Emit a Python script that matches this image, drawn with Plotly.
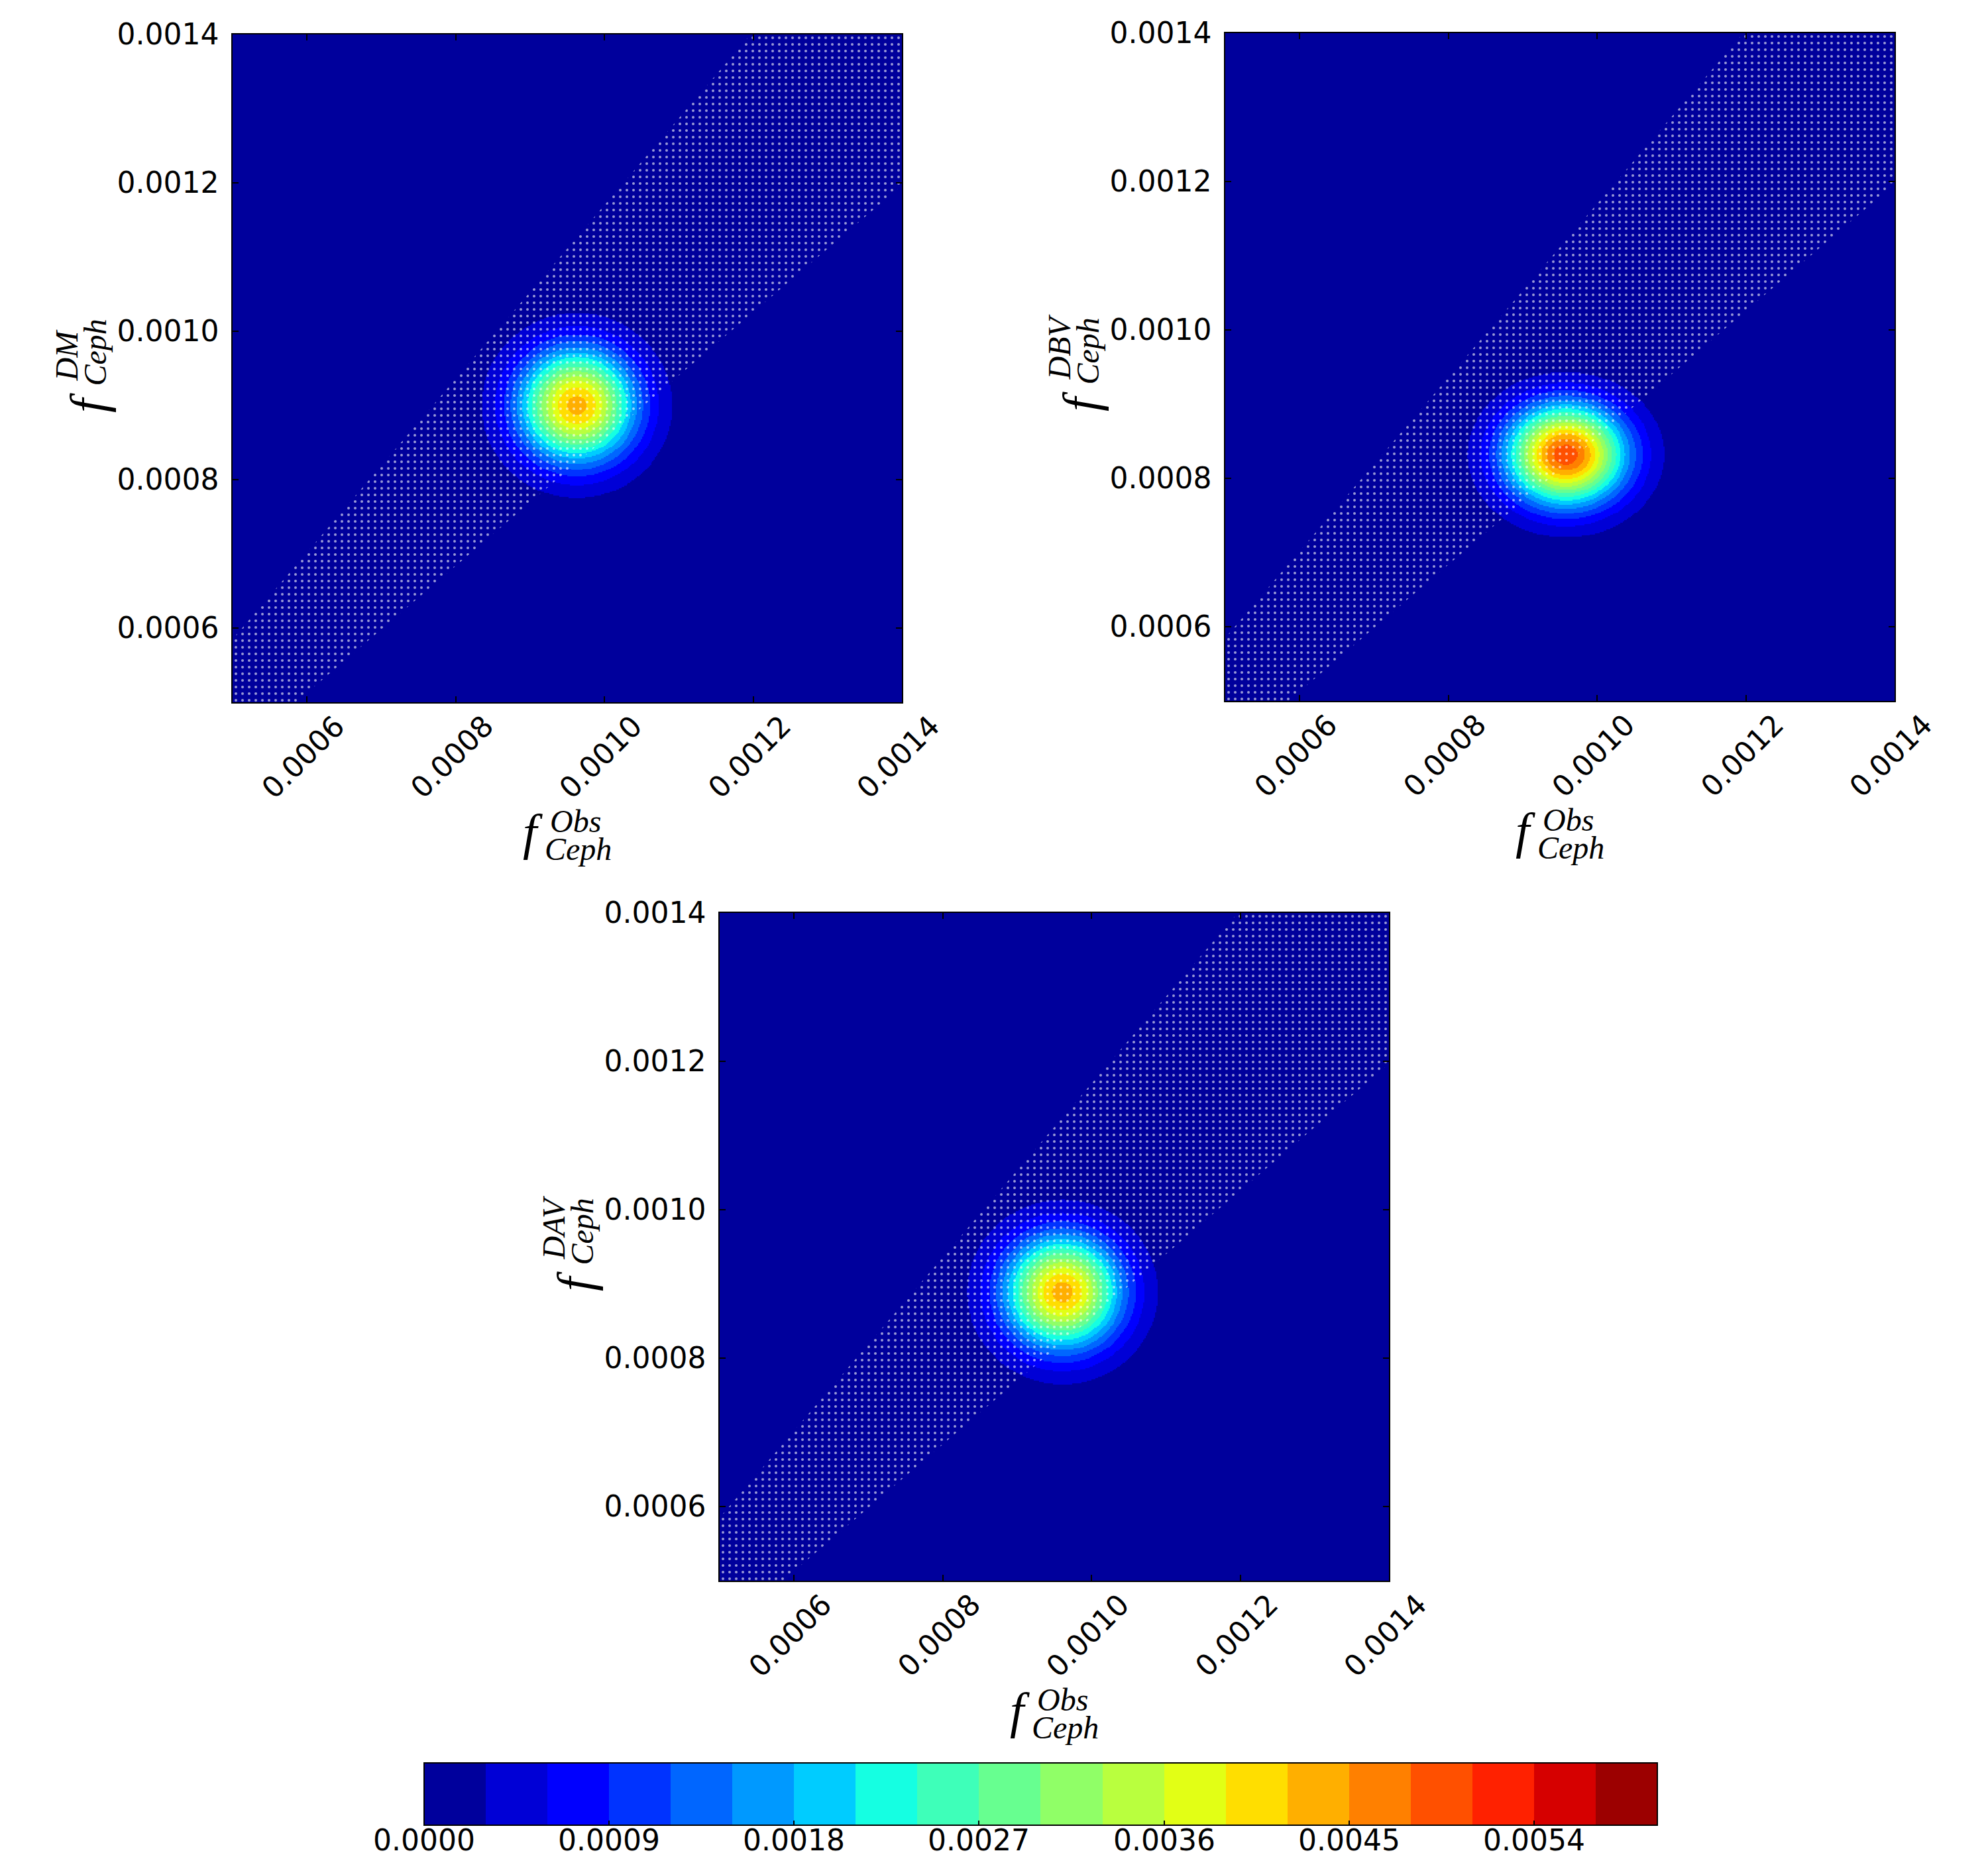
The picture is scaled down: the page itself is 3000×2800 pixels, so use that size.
import numpy as np
import plotly.graph_objects as go

W, H = 3000, 2800

# ---------------- data ----------------
axis_min, axis_max = 0.0005, 0.0014
tick_vals = [0.0006, 0.0008, 0.0010, 0.0012, 0.0014]
tick_text = ["0.0006", "0.0008", "0.0010", "0.0012", "0.0014"]

level_min, level_max, level_step = 0.0, 0.006, 0.0003
cbar_tick_vals = [0.0, 0.0009, 0.0018, 0.0027, 0.0036, 0.0045, 0.0054]
cbar_tick_text = ["0.0000", "0.0009", "0.0018", "0.0027", "0.0036", "0.0045", "0.0054"]

panel_names = ["DM", "DBV", "DAV"]
peak_x = [0.000963, 0.000958, 0.000961]
peak_y = [0.000900, 0.000832, 0.000889]
sigma_x = [5.55e-5, 5.57e-5, 5.55e-5]
sigma_y = [5.40e-5, 4.70e-5, 5.38e-5]
peak_value = [0.00432, 0.00500, 0.00433]

band_ratio = 1.17   # hatched band: 1/ratio < y/x < ratio

# ---------------- layout (pixels) ----------------
panel_px = [(343, 1353, 44, 1052), (1841, 2851, 42, 1050), (1078, 2088, 1370, 2378)]
cbar_px = (632, 2493, 2653, 2747)


def jet(t):
    def interp(pts):
        xs, ys = zip(*pts)
        return float(np.interp(t, xs, ys))
    r = interp([(0, 0), (0.35, 0), (0.66, 1), (0.89, 1), (1, 0.5)])
    g = interp([(0, 0), (0.125, 0), (0.375, 1), (0.64, 1), (0.91, 0), (1, 0)])
    b = interp([(0, 0.5), (0.11, 1), (0.34, 1), (0.65, 0), (1, 0)])
    return "rgb(%d,%d,%d)" % (round(r * 255), round(g * 255), round(b * 255))


n_bins = int(round((level_max - level_min) / level_step))
colorscale = []
for i in range(n_bins):
    c = jet((i + 0.5) / n_bins)
    colorscale.append([i / n_bins, c])
    colorscale.append([(i + 1) / n_bins, c])

N = 520
gx = np.linspace(axis_min, axis_max, N)
gy = np.linspace(axis_min, axis_max, N)
GX, GY = np.meshgrid(gx, gy)

fig = go.Figure()
tick_font = dict(family="DejaVu Sans", size=44, color="black")
math_font_big = dict(family="Liberation Serif", size=76, color="black")
math_font_small = dict(family="Liberation Serif", size=48, color="black")

band_x = [axis_min, axis_max / band_ratio, axis_max, axis_max, axis_min * band_ratio, axis_min, axis_min]
band_y = [axis_min * band_ratio, axis_max, axis_max, axis_max / band_ratio, axis_min, axis_min, axis_min * band_ratio]

annotations = []


def px2paper(px, py):
    return px / W, 1 - py / H


for k in range(3):
    suffix = "" if k == 0 else str(k + 1)
    xa, ya = "x" + suffix, "y" + suffix
    z = peak_value[k] * np.exp(-((GX - peak_x[k]) ** 2) / (2 * sigma_x[k] ** 2)
                               - ((GY - peak_y[k]) ** 2) / (2 * sigma_y[k] ** 2))
    z = z.astype(np.float32)
    show = (k == 2)
    hm = go.Heatmap(
        x=gx, y=gy, z=z, xaxis=xa, yaxis=ya,
        colorscale=colorscale, zmin=level_min, zmax=level_max, zsmooth=False,
        showscale=show, hoverinfo="skip",
    )
    if show:
        x0, x1, y0, y1 = cbar_px
        hm.colorbar = dict(
            orientation="h", x=(x0 + x1) / 2 / W, xanchor="center",
            y=1 - y0 / H, yanchor="top", ypad=0, xpad=0,
            len=x1 - x0, lenmode="pixels", thickness=y1 - y0, thicknessmode="pixels",
            tickvals=cbar_tick_vals, showticklabels=False,
            ticks="inside", ticklen=8, tickwidth=1.5, tickcolor="black",
            outlinecolor="black", outlinewidth=2,
        )
        for v, t in zip(cbar_tick_vals, cbar_tick_text):
            X, Y = px2paper(x0 + (v - level_min) / (level_max - level_min) * (x1 - x0), y1 - 5)
            annotations.append(dict(x=X, y=Y, xref="paper", yref="paper", text=t,
                                    showarrow=False, xanchor="center", yanchor="top",
                                    font=tick_font))
    fig.add_trace(hm)
    fig.add_trace(go.Scatter(
        x=band_x, y=band_y, xaxis=xa, yaxis=ya, mode="lines",
        line=dict(width=0, color="rgba(0,0,0,0)"), fill="toself",
        fillcolor="rgba(0,0,0,0)",
        fillpattern=dict(shape=".", fgcolor="white", fgopacity=0.6,
                         bgcolor="rgba(0,0,0,0)", size=10, solidity=0.13),
        hoverinfo="skip", showlegend=False,
    ))

    px0, px1, py0, py1 = panel_px[k]
    common = dict(range=[axis_min, axis_max], tickvals=tick_vals, ticks="inside",
                  ticklen=9, tickwidth=1.5, tickcolor="black", showline=True,
                  linecolor="black", linewidth=1.5, mirror="ticks", showgrid=False,
                  zeroline=False)
    fig.layout["xaxis" + suffix] = dict(common, domain=[px0 / W, px1 / W], anchor=ya,
                                        showticklabels=False)
    fig.layout["yaxis" + suffix] = dict(common, domain=[1 - py1 / H, 1 - py0 / H], anchor=xa,
                                        ticktext=tick_text, tickfont=tick_font,
                                        ticklabelstandoff=10)

    # rotated x tick labels
    for v, t in zip(tick_vals, tick_text):
        annotations.append(dict(x=v, xref=xa, y=0, yref=ya + " domain", text=t,
                                showarrow=False, textangle=-45, xanchor="center",
                                yanchor="top", yshift=-7, xshift=-6, font=tick_font))

    # x label  f^{Obs}_{Ceph}
    cx = (px0 + px1) / 2
    B = py1
    for txt, dx, dy, anc, fnt in [("<i>f</i>", -52, 196, "center", math_font_big),
                                  ("<i>Obs</i>", -28, 179, "left", math_font_small),
                                  ("<i>Ceph</i>", -36, 221, "left", math_font_small)]:
        X, Y = px2paper(cx + dx, B + dy)
        annotations.append(dict(x=X, y=Y, xref="paper", yref="paper", text=txt,
                                showarrow=False, xanchor=anc, yanchor="middle", font=fnt))
    # y label  f^{name}_{Ceph}
    L = px0
    cy = (py0 + py1) / 2
    for txt, dx, dy, anc, fnt in [("<i>f</i>", -218, 52, "middle", math_font_big),
                                  ("<i>%s</i>" % panel_names[k], -251, 22, "bottom", math_font_small),
                                  ("<i>Ceph</i>", -208, 29, "bottom", math_font_small)]:
        X, Y = px2paper(L + dx, cy + dy)
        annotations.append(dict(x=X, y=Y, xref="paper", yref="paper", text=txt,
                                showarrow=False, xanchor="center", yanchor=anc,
                                textangle=-90, font=fnt))

fig.update_layout(
    width=W, height=H, margin=dict(l=0, r=0, t=0, b=0, autoexpand=False),
    paper_bgcolor="white", plot_bgcolor="white", showlegend=False,
    annotations=annotations,
)

fig.write_html("out.html")
